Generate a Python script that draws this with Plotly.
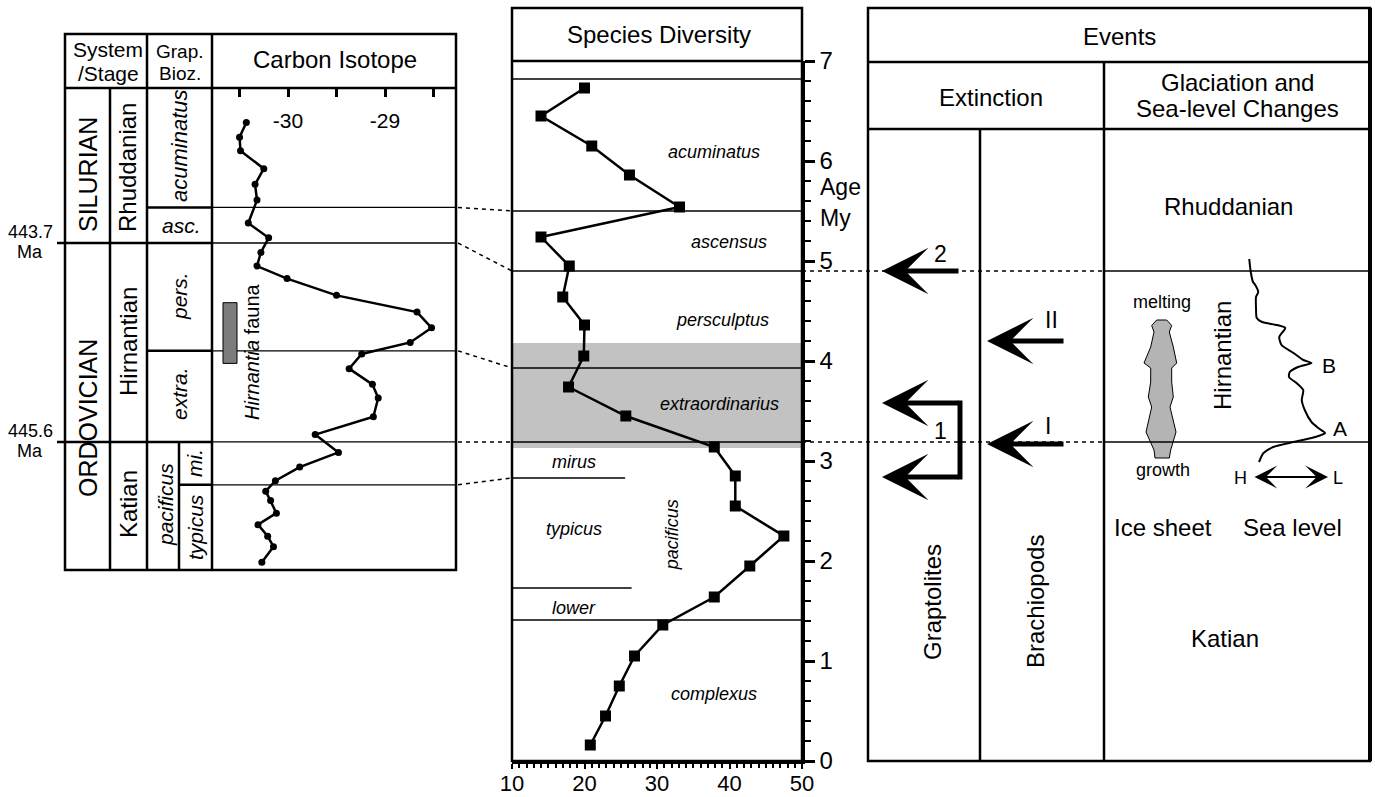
import plotly.graph_objects as go

W, H = 1375, 797
FONT = "Liberation Sans, Arial, Helvetica, sans-serif"

# ======================= DATA =======================
# ---- Left panel: carbon isotope curve (age in Ma, d13C permil) ----
c13_age_ma = [442.55, 442.69, 442.82, 442.99, 443.14, 443.29, 443.51, 443.65, 443.79, 443.92,
              444.04, 444.20, 444.36, 444.51, 444.65, 444.76, 444.90, 445.05, 445.18, 445.36,
              445.53, 445.70, 445.84, 445.97, 446.07, 446.16, 446.28, 446.39, 446.50, 446.60,
              446.75]
c13_value = [-30.43, -30.50, -30.49, -30.25, -30.34, -30.32, -30.41, -30.20, -30.28, -30.32,
             -30.01, -29.50, -28.67, -28.52, -28.74, -29.24, -29.37, -29.13, -29.07, -29.12,
             -29.72, -29.48, -29.88, -30.13, -30.23, -30.18, -30.12, -30.31, -30.21, -30.15,
             -30.27]
carbon_tickvals = [-30.5, -30.0, -29.5, -29.0, -28.5]
carbon_ticktext = ["", "-30", "", "-29", ""]

# stratigraphic boundaries of the left column (Ma): asc. base, Sil/Ord, pers/extra, Hirn/Kat, mi/typicus
strat_boundary_ma = [443.36, 443.70, 444.73, 445.60, 446.01]
dated_boundary_ma = [443.7, 445.6]
hirnantia_fauna_ma = [444.27, 444.85]

# ---- Middle panel: species diversity ----
div_age_my = [6.73, 6.45, 6.15, 5.86, 5.54, 5.24, 4.95, 4.64, 4.36, 4.05, 3.74, 3.45,
              3.14, 2.85, 2.55, 2.25, 1.95, 1.64, 1.36, 1.05, 0.75, 0.45, 0.16]
div_species = [20.0, 14.0, 21.0, 26.2, 33.1, 14.0, 17.9, 17.0, 20.0, 19.9, 17.8, 25.7,
               37.9, 40.8, 40.8, 47.5, 42.8, 37.9, 30.8, 26.9, 24.8, 22.9, 20.8]
zone_boundary_my = [6.82, 5.50, 4.90, 3.93, 3.19, 1.41]
subzone_boundary_my = [2.83, 1.73]
extinction_band_my = [3.13, 4.18]
zone_names = ["acuminatus", "ascensus", "persculptus", "extraordinarius",
              "mirus", "typicus", "lower", "complexus"]
zone_label_my = [6.09, 5.19, 4.41, 3.57, 2.99, 2.32, 1.53, 0.67]
# correlation of left-column boundaries (Ma) with middle-panel levels (My)
correlation_ma = [443.36, 443.70, 444.73, 445.60, 446.01]
correlation_my = [5.50, 4.90, 3.93, 3.19, 2.83]

# ---- Right panel: events ----
stage_boundary_my = [4.90, 3.19]
graptolite_event2_my = 4.90
graptolite_event1_my = [3.58, 2.84]
brachiopod_event_my = [4.20, 3.17]
sea_level_age = [5.02, 4.89, 4.79, 4.76, 4.69, 4.64, 4.53, 4.43, 4.39, 4.36, 4.33, 4.24,
                 4.16, 4.08, 4.01, 3.98, 3.94, 3.89, 3.84, 3.78, 3.71, 3.61, 3.51, 3.39,
                 3.33, 3.28, 3.24, 3.19, 3.14, 3.08, 2.99]
sea_level_value = [-0.05, -0.03, 0.00, 0.03, 0.07, 0.04, 0.04, 0.05, 0.12, 0.32, 0.43, 0.35,
                   0.38, 0.54, 0.67, 0.78, 0.60, 0.49, 0.48, 0.58, 0.67, 0.65, 0.69, 0.78,
                   0.87, 0.96, 0.83, 0.54, 0.27, 0.14, 0.08]
ice_age = [4.41, 4.355, 4.29, 4.14, 3.98, 3.93, 3.79, 3.64, 3.54, 3.29, 3.11, 3.03]
ice_left = [-0.53, -1.03, -0.80, -1.13, -1.80, -1.13, -1.13, -1.37, -1.03, -1.60, -0.80, -0.70]
ice_right = [0.47, 0.97, 0.73, 1.13, 1.47, 0.97, 0.97, 1.13, 0.80, 1.40, 0.87, 0.73]

# ======================= HELPERS =======================
MA_TOP, MA_BOT = 442.2196, 446.8232


def px(x):
    return x / W


def py(y):
    return 1 - y / H


def ma_px(ma):
    return 88 + (ma - MA_TOP) / (MA_BOT - MA_TOP) * (570 - 88)


def my_px(my):
    return 761 - my * 100


shapes = []
annotations = []


def line(x0, y0, x1, y1, w=2.5, dash="solid", xref="paper", yref="paper", layer="above"):
    shapes.append(dict(type="line", x0=x0, y0=y0, x1=x1, y1=y1, xref=xref, yref=yref,
                       layer=layer, line=dict(color="black", width=w, dash=dash)))


def rect(x0, y0, x1, y1, w=2.5):
    shapes.append(dict(type="rect", x0=px(x0), x1=px(x1), y0=py(y0), y1=py(y1),
                       xref="paper", yref="paper", line=dict(color="black", width=w)))


def text(x, y, s, size, angle=0, xref="paper", yref="paper", xanchor="center", italic=False):
    if italic:
        s = "<i>" + s + "</i>"
    annotations.append(dict(x=x, y=y, xref=xref, yref=yref, text=s, showarrow=False,
                            textangle=angle, xanchor=xanchor, yanchor="middle",
                            font=dict(size=size, family=FONT, color="black")))


def arrow(x_tip, age, length, w=5, size=1.55):
    annotations.append(dict(x=px(x_tip), y=age, xref="paper", yref="y", ax=length, ay=0,
                            axref="pixel", ayref="pixel", text="", showarrow=True,
                            arrowhead=3, arrowsize=size, arrowwidth=w, arrowcolor="black",
                            standoff=0))


DOT = "4px,4px"

# ======================= LEFT PANEL =======================
rect(65, 34, 456, 570)
line(px(65), py(88), px(456), py(88))
line(px(147), py(34), px(147), py(570))
line(px(212), py(34), px(212), py(570))
line(px(110), py(88), px(110), py(570))
line(px(179), 445.60, px(179), MA_BOT, yref="y2")
thick_start = [147, 57, 147, 57, 179]
for ma, xs in zip(strat_boundary_ma, thick_start):
    line(px(xs), ma, px(212), ma, 2.5, yref="y2")
    line(px(212), ma, px(456), ma, 1.3, yref="y2")
shapes.append(dict(type="rect", xref="paper", yref="y2", x0=px(223), x1=px(237),
                   y0=hirnantia_fauna_ma[0], y1=hirnantia_fauna_ma[1],
                   fillcolor="#7c7c7c", line=dict(color="black", width=1)))

text(px(108), py(50), "System", 21)
text(px(108), py(73), "/Stage", 21)
text(px(180), py(52), "Grap.", 19)
text(px(180), py(74), "Bioz.", 19)
text(px(335), py(60), "Carbon Isotope", 24)
text(px(88), py(175), "SILURIAN", 25, -90)
text(px(128), py(167), "Rhuddanian", 24, -90)
text(px(88), py(418), "ORDOVICIAN", 25, -90)
text(px(128), py(341), "Hirnantian", 24, -90)
text(px(128), py(504), "Katian", 24, -90)
text(px(179), py(146), "acuminatus", 22, -90, italic=True)
text(px(182), py(225), "asc.", 21, italic=True)
text(px(179), py(296), "pers.", 21, -90, italic=True)
text(px(179), py(394), "extra.", 21, -90, italic=True)
text(px(165), py(505), "pacificus", 21, -90, italic=True)
text(px(195), py(463), "mi.", 21, -90, italic=True)
text(px(195), py(527), "typicus", 21, -90, italic=True)
text(px(252), py(352), "<i>Hirnantia</i> fauna", 20, -90)
for ma in dated_boundary_ma:
    yy = ma_px(ma)
    text(px(30), py(yy - 11), "%.1f" % ma, 18)
    text(px(30), py(yy + 9), "Ma", 18)

# ======================= MIDDLE PANEL =======================
rect(512, 8, 802, 761)
line(px(512), py(61), px(802), py(61))
shapes.append(dict(type="rect", xref="x", yref="y", x0=10, x1=50,
                   y0=extinction_band_my[0], y1=extinction_band_my[1],
                   fillcolor="#c2c2c2", line=dict(width=0), layer="below"))
for b in zone_boundary_my:
    line(10, b, 50, b, 1.4, xref="x", yref="y", layer="below")
for b, xe in zip(subzone_boundary_my, [25.6, 26.5]):
    line(10, b, xe, b, 1.4, xref="x", yref="y", layer="below")
for ma, my in zip(correlation_ma, correlation_my):
    line(px(458), py(ma_px(ma)), px(512), py(my_px(my)), 1.5, dash=DOT)

text(px(659), py(35), "Species Diversity", 24)
zone_label_x = [37.9, 39.9, 39.0, 38.6, 18.6, 18.5, 18.6, 37.9]
for name, my, xx in zip(zone_names, zone_label_my, zone_label_x):
    text(xx, my, name, 18, xref="x", yref="y", italic=True)
text(32.1, 2.26, "pacificus", 18, -90, xref="x", yref="y", italic=True)
text(px(818), py(187), "Age", 23, xanchor="left")
text(px(818), py(218), "My", 23, xanchor="left")

# ======================= RIGHT PANEL =======================
rect(868, 8, 1370, 761)
line(px(1370), py(8), px(1370), py(761), 4)
line(px(868), py(62), px(1370), py(62))
line(px(868), py(129), px(1370), py(129))
line(px(1104), py(62), px(1104), py(761))
line(px(980), py(129), px(980), py(761))
for my in stage_boundary_my:
    line(px(802), my, px(1104), my, 1.5, dash=DOT, yref="y")
    line(px(1104), my, px(1370), my, 1.5, yref="y")

text(px(1119), py(36), "Events", 24)
text(px(991), py(98), "Extinction", 24)
text(px(1237), py(82), "Glaciation and", 24)
text(px(1237), py(109), "Sea-level Changes", 24)
text(px(1228), py(207), "Rhuddanian", 24)
text(px(1225), py(638), "Katian", 24)
text(px(1222), py(356), "Hirnantian", 24, -90)
text(px(932), py(602), "Graptolites", 24, -90)
text(px(1035), py(602), "Brachiopods", 24, -90)
text(px(1163), py(527), "Ice sheet", 24)
text(px(1292), py(527), "Sea level", 24)
text(px(1162), py(302), "melting", 18)
text(px(1163), py(470), "growth", 18)
text(px(1340), py(428), "A", 21)
text(px(1329), py(365), "B", 21)
text(px(1240), py(478), "H", 18)
text(px(1338), py(478), "L", 18)
text(px(940), py(254), "2", 23)
text(px(1051), py(320), "II", 23)
text(px(1048), py(426), "I", 23)
text(px(940), py(431), "1", 23)

arrow(882, graptolite_event2_my, 78)
for my in graptolite_event1_my:
    arrow(882, my, 78)
line(px(960), graptolite_event1_my[0] + 0.025, px(960), graptolite_event1_my[1] - 0.025,
     5, yref="y")
for my in brachiopod_event_my:
    arrow(987, my, 78)
annotations.append(dict(x=px(1328), y=2.84, xref="paper", yref="y", ax=-75, ay=0,
                        axref="pixel", ayref="pixel", text="", showarrow=True,
                        arrowside="end+start", arrowhead=3, startarrowhead=3,
                        arrowsize=1.9, startarrowsize=1.9, arrowwidth=2,
                        arrowcolor="black", standoff=0, startstandoff=0))

# ======================= TRACES =======================
fig = go.Figure()
fig.add_trace(go.Scatter(x=c13_value, y=c13_age_ma, xaxis="x2", yaxis="y2",
                         mode="lines+markers", line=dict(color="black", width=2.5),
                         marker=dict(size=7, color="black"), showlegend=False,
                         cliponaxis=False))
fig.add_trace(go.Scatter(x=div_species, y=div_age_my, xaxis="x", yaxis="y",
                         mode="lines+markers", line=dict(color="black", width=2.5),
                         marker=dict(size=11, color="black", symbol="square"),
                         showlegend=False, cliponaxis=False))
ice_x = ice_left + ice_right[::-1] + [ice_left[0]]
ice_y = ice_age + ice_age[::-1] + [ice_age[0]]
fig.add_trace(go.Scatter(x=ice_x, y=ice_y, xaxis="x4", yaxis="y", mode="lines",
                         fill="toself", fillcolor="#b4b4b4",
                         line=dict(color="black", width=1), showlegend=False))
fig.add_trace(go.Scatter(x=sea_level_value, y=sea_level_age, xaxis="x3", yaxis="y",
                         mode="lines", line=dict(color="black", width=2, shape="spline",
                                                 smoothing=0.6),
                         showlegend=False, cliponaxis=False))

axis_font = dict(family=FONT, size=22, color="black")
fig.update_layout(
    width=W, height=H, autosize=False,
    margin=dict(l=0, r=0, t=0, b=0, pad=0, autoexpand=False),
    paper_bgcolor="white", plot_bgcolor="white",
    showlegend=False,
    xaxis=dict(domain=[px(512), px(802)], range=[10, 50], anchor="y",
               showgrid=False, zeroline=False, showline=True, linewidth=2.5,
               linecolor="black", ticks="outside", ticklen=5, tickwidth=2,
               tickcolor="black", tick0=10, dtick=10, tickfont=axis_font,
               ticklabelstandoff=-4,
               minor=dict(dtick=1, ticklen=4, tickwidth=1.5, ticks="outside",
                          tickcolor="black", showgrid=False)),
    yaxis=dict(domain=[py(761), py(61)], range=[0, 7], anchor="x", side="right",
               showgrid=False, zeroline=False, showline=True, linewidth=2.5,
               linecolor="black", ticks="outside", ticklen=10, tickwidth=2.5,
               tickcolor="black", tick0=0, dtick=1,
               tickfont=dict(family=FONT, size=24, color="black"),
               minor=dict(dtick=0.2, ticklen=6, tickwidth=2, ticks="outside",
                          tickcolor="black", showgrid=False)),
    xaxis2=dict(domain=[px(212), px(456)], range=[-30.784, -28.268], anchor="y2",
                side="top", showgrid=False, zeroline=False, showline=False,
                ticks="inside", ticklen=9, tickwidth=2.5, tickcolor="black",
                tickmode="array", tickvals=carbon_tickvals, ticktext=carbon_ticktext,
                ticklabelposition="inside", ticklabelstandoff=18,
                tickfont=dict(family=FONT, size=21, color="black")),
    yaxis2=dict(domain=[py(570), py(88)], range=[MA_BOT, MA_TOP], anchor="x2",
                visible=False),
    xaxis3=dict(domain=[px(1104), px(1370)], range=[(1104 - 1253) / 75, (1370 - 1253) / 75],
                anchor="y", visible=False),
    xaxis4=dict(domain=[px(1130), px(1194)], range=[-3.2, 3.2], anchor="y", visible=False),
    shapes=shapes,
    annotations=annotations,
)

fig.write_html("out.html", post_script="document.body.style.margin='0';",
               config={"displayModeBar": False})
